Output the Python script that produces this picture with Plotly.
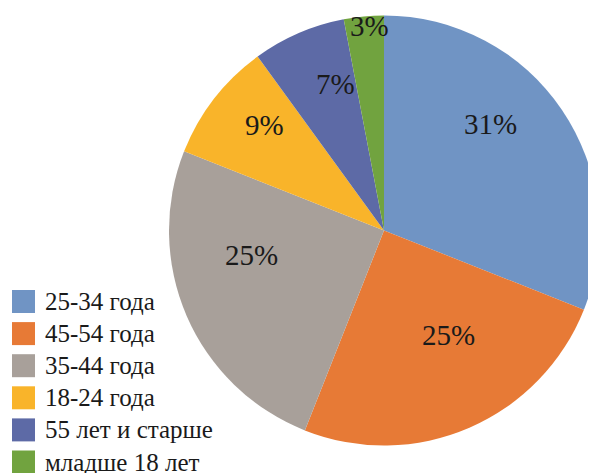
import math
import plotly.graph_objects as go

categories = ["25-34 года", "45-54 года", "35-44 года", "18-24 года", "55 лет и старше", "младше 18 лет"]
values = [31, 25, 25, 9, 7, 3]
colors = ["#7094C4", "#E77A36", "#A8A09A", "#F9B42A", "#5D6AA6", "#71A33F"]

# label placement (style): radial fraction and angular shift (deg) from slice middle
label_rfrac = [0.70, 0.57, 0.625, 0.74, 0.72, 0.955]
label_shift = [-10.8, -8.2, 12.9, 3.5, 5.0, 1.4]

W, H = 596, 473
OFF = 8  # default page body margin
cx, cy, r = 384 - OFF, 230.5 - OFF, 215
FONT = "Liberation Serif"

fig = go.Figure()
fig.add_trace(go.Pie(
    labels=categories, values=values, sort=False, direction="clockwise", rotation=0,
    marker=dict(colors=colors, line=dict(width=0)),
    textinfo="none",
    domain=dict(x=[(cx - r) / W, (cx + r) / W], y=[(H - cy - r) / H, (H - cy + r) / H]),
    showlegend=False, hoverinfo="skip",
))

total = sum(values)
cum = 0
for v, rf, sh in zip(values, label_rfrac, label_shift):
    mid = (cum + v / 2) / total * 360 + sh
    cum += v
    px = cx + rf * r * math.sin(math.radians(mid))
    py = cy - rf * r * math.cos(math.radians(mid))
    fig.add_annotation(xref="paper", yref="paper", x=px / W, y=1 - py / H,
                       text=f"{round(v / total * 100)}%", showarrow=False,
                       xanchor="center", yanchor="middle",
                       font=dict(family=FONT, size=29, color="#1a1a1a"))

# legend drawn manually
y0 = 301.5 - OFF
dy = 32.1
for i, (lab, col) in enumerate(zip(categories, colors)):
    yc = y0 + i * dy
    fig.add_shape(type="rect", xref="paper", yref="paper",
                  x0=(12 - OFF) / W, x1=(35 - OFF) / W,
                  y0=1 - (yc + 11.5) / H, y1=1 - (yc - 11.5) / H,
                  fillcolor=col, line=dict(width=0))
    fig.add_annotation(xref="paper", yref="paper", x=(43 - OFF) / W, y=1 - yc / H,
                       text=lab, showarrow=False, xanchor="left", yanchor="middle",
                       font=dict(family=FONT, size=25, color="#1a1a1a"))

fig.update_layout(
    width=W, height=H, margin=dict(l=0, r=0, t=0, b=0),
    paper_bgcolor="white", plot_bgcolor="white",
    font=dict(family=FONT),
)
fig.write_html("out.html")
